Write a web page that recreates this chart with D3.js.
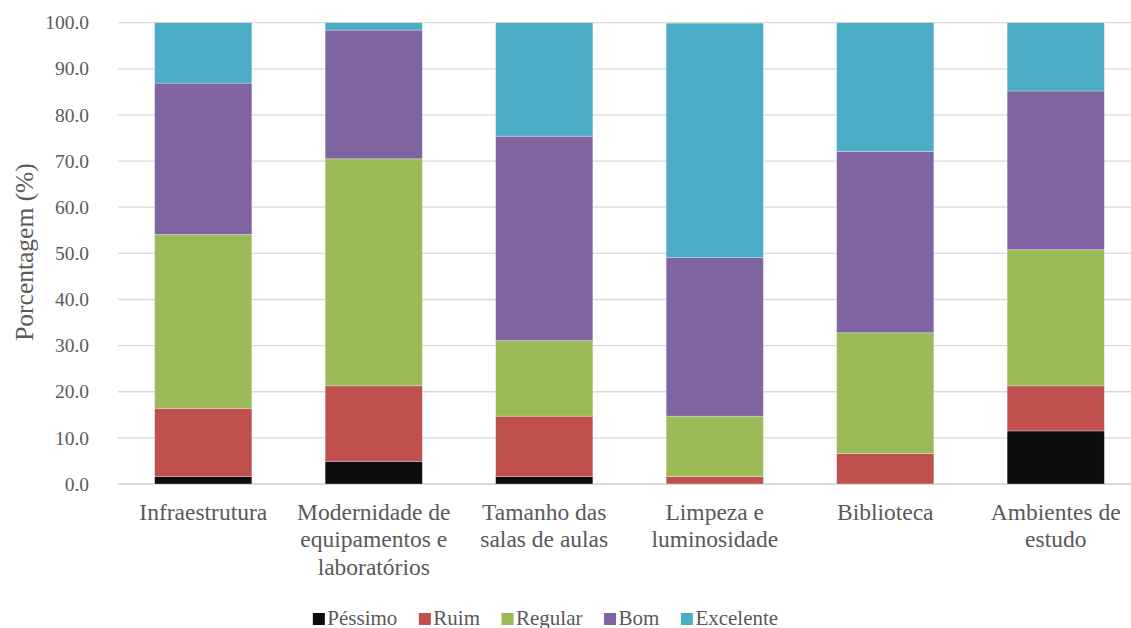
<!DOCTYPE html>
<html>
<head>
<meta charset="utf-8">
<script src="https://cdn.jsdelivr.net/npm/d3@7"></script>
<style>
  html, body { margin: 0; padding: 0; background: #fff; }
</style>
</head>
<body>
<div id="fig"></div>
<script>
// Avaliação da infraestrutura (percentual de respostas por item)
const categories = [
  ["Infraestrutura"],
  ["Modernidade de", "equipamentos e", "laboratórios"],
  ["Tamanho das", "salas de aulas"],
  ["Limpeza e", "luminosidade"],
  ["Biblioteca"],
  ["Ambientes de", "estudo"]
];
const seriesNames = ["Péssimo", "Ruim", "Regular", "Bom", "Excelente"];
const pessimo   = [1.6, 4.9, 1.6, 0.0, 0.0, 11.5];
const ruim      = [14.8, 16.4, 13.1, 1.6, 6.6, 9.8];
const regular   = [37.7, 49.2, 16.4, 13.1, 26.2, 29.5];
const bom       = [32.8, 27.9, 44.3, 34.4, 39.3, 34.4];
const excelente = [13.1, 1.6, 24.6, 50.8, 27.9, 14.8];
const yTicks = [0, 10, 20, 30, 40, 50, 60, 70, 80, 90, 100];

const colors = ["#0d0d0d", "#c0504d", "#9bbb59", "#8064a2", "#4bacc6"];
const textColor = "#595959";
const gridColor = "#d9d9d9";
const FONT = "Liberation Serif";

const width = 1131, height = 628;
const svg = d3.select("#fig").append("svg")
  .attr("width", width).attr("height", height)
  .style("display", "block");

const keys = categories.map(c => c.join(" "));
const rows = keys.map((k, i) => ({
  key: k,
  "Péssimo": pessimo[i], "Ruim": ruim[i], "Regular": regular[i],
  "Bom": bom[i], "Excelente": excelente[i]
}));

const x = d3.scaleBand().domain(keys).range([118, 1141])
  .paddingInner(0.43).paddingOuter(0.215);
const y = d3.scaleLinear().domain([0, 100]).range([484, 22.7]);

// grid lines
svg.append("g").selectAll("line").data(yTicks).join("line")
  .attr("x1", 118).attr("x2", width)
  .attr("y1", d => y(d)).attr("y2", d => y(d))
  .attr("stroke", gridColor).attr("stroke-width", d => d === 0 ? 1.8 : 1.3);

// y tick labels, placed from the linear scale
svg.append("g").selectAll("text").data(yTicks).join("text")
  .attr("x", 89).attr("y", d => y(d)).attr("dy", "0.34em")
  .attr("text-anchor", "end")
  .attr("font-family", FONT).attr("font-size", 19.5).attr("fill", textColor)
  .text(d3.format(".1f"));

// stacked bars
const stack = d3.stack().keys(seriesNames)(rows);
svg.append("g").selectAll("g").data(stack).join("g")
  .attr("fill", (d, i) => colors[i])
  .selectAll("rect").data(d => d).join("rect")
  .attr("x", d => x(d.data.key))
  .attr("width", x.bandwidth())
  .attr("y", d => y(d[1]))
  .attr("height", d => y(d[0]) - y(d[1]))
  .attr("stroke", "#ffffff").attr("stroke-opacity", 0.35).attr("stroke-width", 0.8);

// category labels
const xl = svg.append("g");
categories.forEach((lines, i) => {
  const cxp = x(keys[i]) + x.bandwidth() / 2;
  const t = xl.append("text")
    .attr("x", cxp).attr("y", 519.5)
    .attr("text-anchor", "middle")
    .attr("font-family", FONT).attr("font-size", 23.5).attr("fill", textColor);
  lines.forEach((ln, j) => {
    t.append("tspan").attr("x", cxp)
      .attr("dy", j === 0 ? 0 : 27.8).text(ln);
  });
});

// y axis title
svg.append("text")
  .attr("transform", "translate(33,252) rotate(-90)")
  .attr("text-anchor", "middle")
  .attr("font-family", FONT).attr("font-size", 25.5).attr("fill", textColor)
  .text("Porcentagem (%)");

// legend
const items = svg.append("g").selectAll("g").data(seriesNames).join("g");
items.append("rect").attr("width", 12).attr("height", 12)
  .attr("y", 613).attr("fill", (d, i) => colors[i]);
items.append("text").attr("x", 14.5).attr("y", 624.5)
  .attr("font-family", FONT).attr("font-size", 21).attr("fill", textColor)
  .text(d => d);

let cx = 0;
const offsets = [];
items.each(function () {
  offsets.push(cx);
  const w = d3.select(this).select("text").node().getComputedTextLength();
  cx += 14.5 + w + 21.5;
});
const totalW = cx - 21.5;
const startX = 545.5 - totalW / 2;
items.attr("transform", (d, i) => `translate(${startX + offsets[i]},0)`);
</script>
</body>
</html>
